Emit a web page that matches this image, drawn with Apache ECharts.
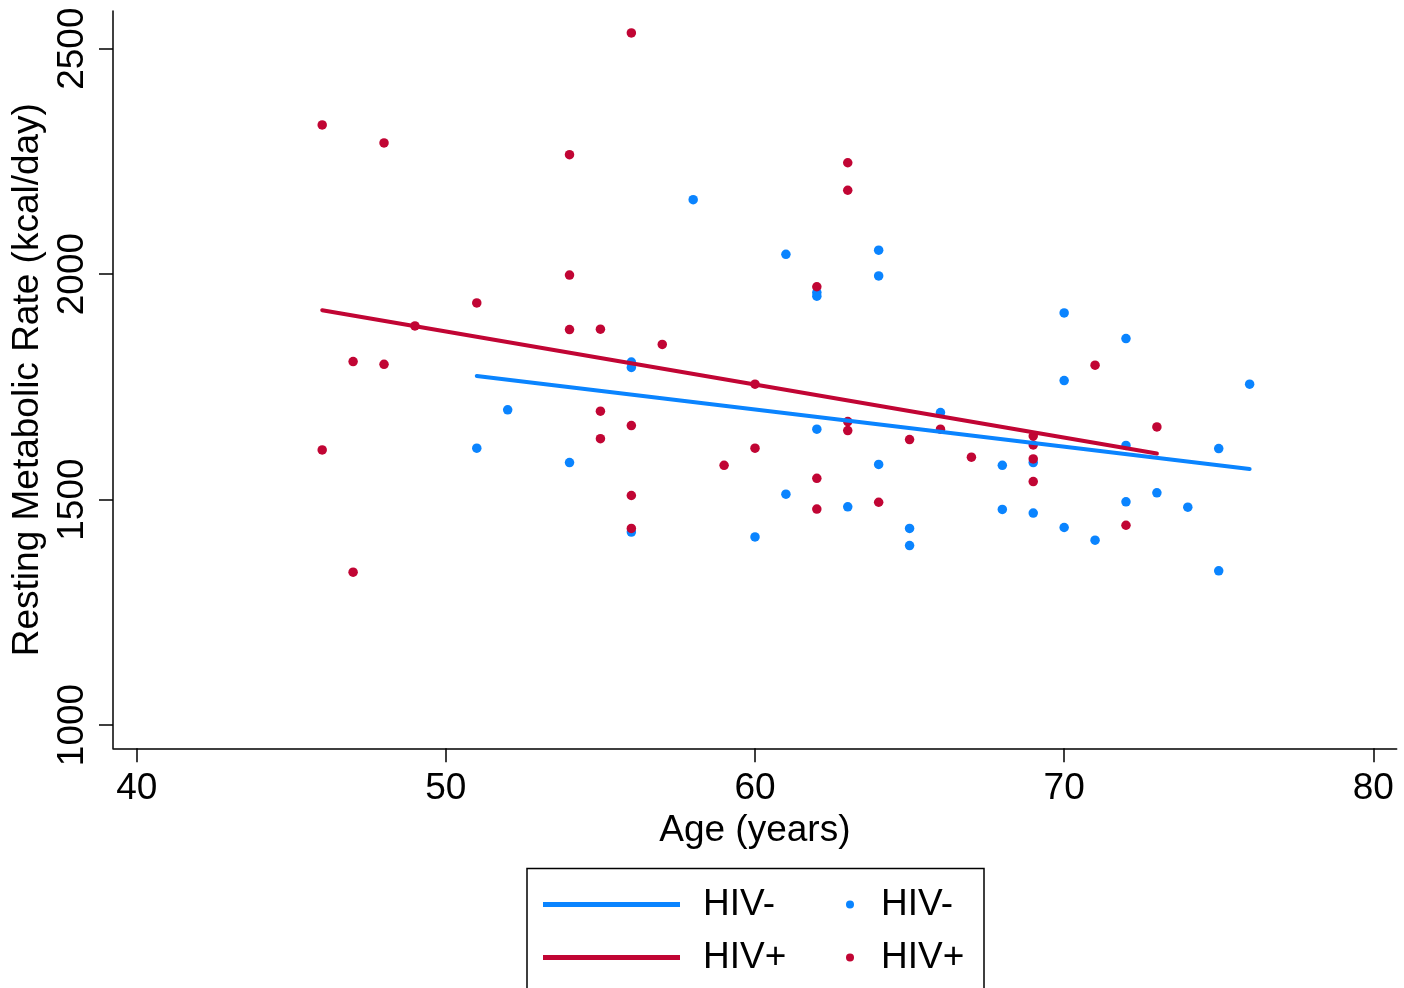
<!DOCTYPE html>
<html>
<head>
<meta charset="utf-8">
<script src="https://cdn.jsdelivr.net/npm/echarts@6/dist/echarts.min.js"></script>
<style>
html,body{margin:0;padding:0;background:#fff;}
#chart{width:1404px;height:988px;}
</style>
</head>
<body>
<div id="chart"></div>
<script>
// ---- data ----
const xTicks = [40, 50, 60, 70, 80];
const yTicks = [1000, 1500, 2000, 2500];

// HIV- (blue) scatter
const negAge = [51, 52, 54, 56, 56, 56, 58, 60, 61, 61, 62, 62, 62, 63, 64, 64, 64, 65, 65, 66,
                68, 68, 69, 69, 70, 70, 70, 71, 72, 72, 72, 73, 74, 75, 75, 76];
const negRmr = [1614, 1699, 1582, 1805, 1793, 1428, 2165, 1417, 2044, 1512, 1959, 1951, 1656, 1484, 2053, 1996, 1578, 1436, 1398, 1693,
                1576, 1478, 1582, 1470, 1914, 1764, 1438, 1410, 1857, 1620, 1495, 1515, 1483, 1613, 1342, 1756];

// HIV+ (red) scatter
const posAge = [46, 46, 47, 47, 48, 48, 49, 51, 54, 54, 54, 55, 55, 55, 56, 56, 56, 56, 57, 59,
                60, 60, 62, 62, 62, 63, 63, 63, 63, 64, 65, 66, 67, 69, 69, 69, 69, 71, 72, 73];
const posRmr = [2331, 1610, 1806, 1339, 2291, 1800, 1885, 1936, 2265, 1998, 1877, 1878, 1696, 1635, 2535, 1664, 1509, 1436, 1844, 1576,
                1756, 1614, 1972, 1547, 1479, 2247, 2186, 1673, 1653, 1494, 1633, 1656, 1594, 1641, 1621, 1590, 1540, 1798, 1443, 1661];

// fitted lines (endpoints)
const negFitAge = [51, 76];
const negFitRmr = [1774, 1568];
const posFitAge = [46, 73];
const posFitRmr = [1920, 1602];

const legendLines = ['HIV- fit', 'HIV+ fit'];
const legendDots = ['HIV-', 'HIV+'];

const BLUE = '#0a84ff';
const RED = '#c10534';
const FONT = "'Liberation Sans', Arial, Helvetica, sans-serif";
const FS = 37;

const zip = (a, b) => a.map((v, i) => [v, b[i]]);

const chart = echarts.init(document.getElementById('chart'), null, {renderer: 'canvas'});
chart.setOption({
  backgroundColor: '#fff',
  animation: false,
  textStyle: {fontFamily: FONT, color: '#000'},
  grid: {left: 113, right: 7.3, top: 11, bottom: 239.7, containLabel: false, outerBoundsMode: 'none'},
  xAxis: {
    type: 'value', min: 39.233, max: 80.757,
    name: 'Age (years)', nameLocation: 'middle', nameGap: 64,
    nameTextStyle: {fontSize: FS, fontFamily: FONT, color: '#000'},
    splitLine: {show: false},
    axisLine: {show: true, onZero: false, lineStyle: {color: '#000', width: 1.5}},
    axisTick: {show: true, length: 14, lineStyle: {color: '#000', width: 1.5}, customValues: xTicks},
    axisLabel: {fontSize: FS, fontFamily: FONT, color: '#000', margin: 22, customValues: xTicks,
                formatter: v => String(v), showMinLabel: true, showMaxLabel: true}
  },
  yAxis: {
    type: 'value', min: 948.3, max: 2583.6,
    name: 'Resting Metabolic Rate (kcal/day)', nameLocation: 'middle', nameGap: 54, nameRotate: 90,
    nameTextStyle: {fontSize: FS, fontFamily: FONT, color: '#000'},
    splitLine: {show: false},
    axisLine: {show: true, onZero: false, lineStyle: {color: '#000', width: 1.5}},
    axisTick: {show: true, length: 14, lineStyle: {color: '#000', width: 1.5}, customValues: yTicks},
    axisLabel: {fontSize: FS, fontFamily: FONT, color: '#000', margin: 22, rotate: 90, customValues: yTicks,
                formatter: v => String(v)}
  },
  legend: [
    {
      orient: 'vertical', left: 538, top: 881, itemGap: 16, padding: 5,
      itemWidth: 137, itemHeight: 5, icon: 'rect',
      data: legendLines,
      formatter: n => n.replace(' fit', ''),
      textStyle: {fontSize: FS, fontFamily: FONT, color: '#000', lineHeight: 36, padding: [0, 0, 0, 18]},
      selectedMode: false
    },
    {
      orient: 'vertical', left: 841, top: 881, itemGap: 16, padding: 5,
      itemWidth: 8, itemHeight: 8, icon: 'circle',
      data: legendDots,
      textStyle: {fontSize: FS, fontFamily: FONT, color: '#000', lineHeight: 36, padding: [0, 0, 0, 22]},
      selectedMode: false
    }
  ],
  graphic: [{
    type: 'rect', silent: true, z: 100,
    shape: {x: 527, y: 868.5, width: 457, height: 140},
    style: {fill: 'none', stroke: '#000', lineWidth: 1.5}
  }],
  series: [
    {name: 'HIV-', type: 'scatter', symbol: 'circle', symbolSize: 9.5, z: 2,
     itemStyle: {color: BLUE, opacity: 1}, data: zip(negAge, negRmr)},
    {name: 'HIV+', type: 'scatter', symbol: 'circle', symbolSize: 9.5, z: 3,
     itemStyle: {color: RED, opacity: 1}, data: zip(posAge, posRmr)},
    {name: 'HIV- fit', type: 'line', showSymbol: false, symbol: 'none', z: 4,
     lineStyle: {color: BLUE, width: 4, cap: 'round'}, itemStyle: {color: BLUE},
     data: zip(negFitAge, negFitRmr)},
    {name: 'HIV+ fit', type: 'line', showSymbol: false, symbol: 'none', z: 5,
     lineStyle: {color: RED, width: 4, cap: 'round'}, itemStyle: {color: RED},
     data: zip(posFitAge, posFitRmr)}
  ]
});
</script>
</body>
</html>
